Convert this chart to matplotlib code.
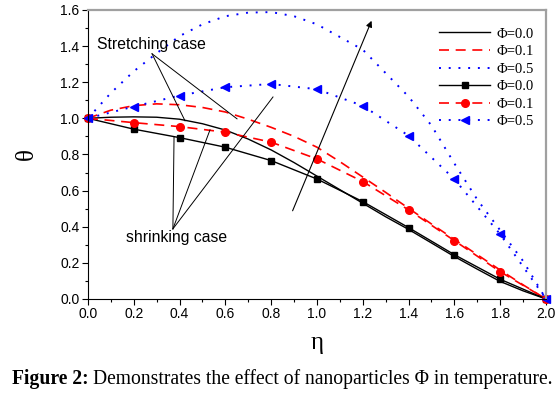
import matplotlib
matplotlib.use("Agg")
from matplotlib import pyplot as plt
from matplotlib.ticker import MultipleLocator

# eta grid for the plain curves (stretching case) and marker curves (shrinking case)
eta_fine = [0.0, 0.1, 0.2, 0.3, 0.4, 0.5, 0.6, 0.7, 0.8, 0.9, 1.0,
            1.1, 1.2, 1.3, 1.4, 1.5, 1.6, 1.7, 1.8, 1.9, 2.0]
theta_s_00 = [1.0, 1.006, 1.008, 1.006, 0.995, 0.97, 0.935, 0.885, 0.825, 0.755, 0.68,
              0.605, 0.53, 0.455, 0.385, 0.31, 0.235, 0.165, 0.097, 0.045, 0.0]
theta_s_01 = [1.0, 1.045, 1.07, 1.08, 1.075, 1.06, 1.035, 0.995, 0.95, 0.9, 0.84,
              0.76, 0.675, 0.59, 0.502, 0.415, 0.33, 0.245, 0.16, 0.078, 0.0]
theta_s_05 = [1.0, 1.14, 1.26, 1.36, 1.455, 1.52, 1.565, 1.585, 1.588, 1.565, 1.52,
              1.45, 1.38, 1.25, 1.12, 0.96, 0.75, 0.55, 0.38, 0.21, 0.0]

eta_mark = [0.0, 0.2, 0.4, 0.6, 0.8, 1.0, 1.2, 1.4, 1.6, 1.8, 2.0]
theta_m_00 = [1.0, 0.94, 0.893, 0.84, 0.766, 0.664, 0.539, 0.395, 0.245, 0.109, 0.0]
theta_m_01 = [1.0, 0.976, 0.954, 0.923, 0.868, 0.775, 0.65, 0.493, 0.323, 0.151, 0.0]
theta_m_05 = [1.0, 1.065, 1.126, 1.172, 1.19, 1.161, 1.069, 0.904, 0.663, 0.358, 0.0]

fig = plt.figure(figsize=(5.6, 3.96), dpi=100)
ax = fig.add_axes([0.157, 0.245, 0.818, 0.730])

ax.plot(eta_fine, theta_s_00, color="black", lw=1.0, label="Φ=0.0")
ax.plot(eta_fine, theta_s_01, color="red", lw=1.2, ls=(0, (6, 4)), label="Φ=0.1")
ax.plot(eta_fine, theta_s_05, color="blue", lw=1.4, ls=(0, (1, 4)), label="Φ=0.5")
ax.plot(eta_mark, theta_m_00, color="black", lw=1.0, marker="s", ms=5,
        label="Φ=0.0", clip_on=False)
ax.plot(eta_mark, theta_m_01, color="red", lw=1.2, ls=(0, (6, 4)), marker="o", ms=5.5,
        label="Φ=0.1", clip_on=False)
ax.plot(eta_mark, theta_m_05, color="blue", lw=1.4, ls=(0, (1, 4)), marker="<", ms=6,
        label="Φ=0.5", clip_on=False)

# annotations
ax.text(0.04, 1.41, "Stretching case", fontsize=11.3, family="Liberation Sans", va="center")
for x2, y2 in [(0.651, 0.997), (0.424, 0.986)]:
    ax.plot([0.28, x2], [1.357, y2], color="black", lw=0.7)
ax.text(0.166, 0.338, "shrinking case", fontsize=11.3, family="Liberation Sans", va="center")
for x2, y2 in [(0.376, 0.897), (0.533, 0.936), (0.808, 1.118)]:
    ax.plot([0.371, x2], [0.388, y2], color="black", lw=0.7)
ax.annotate("", xy=(1.243, 1.554), xytext=(0.889, 0.474),
            arrowprops=dict(arrowstyle="-|>", color="black", lw=0.8, mutation_scale=9))

ax.set_xlim(0, 2.0)
ax.set_ylim(0, 1.6)
ax.xaxis.set_major_locator(MultipleLocator(0.2))
ax.xaxis.set_minor_locator(MultipleLocator(0.1))
ax.yaxis.set_major_locator(MultipleLocator(0.2))
ax.yaxis.set_minor_locator(MultipleLocator(0.1))
ax.set_xticklabels([f"{v:.1f}" for v in ax.get_xticks()])
ax.set_yticklabels([f"{v:.1f}" for v in ax.get_yticks()])
for lab in ax.get_xticklabels() + ax.get_yticklabels():
    lab.set_family("Liberation Sans")
    lab.set_fontsize(10)
ax.tick_params(which="major", length=4, width=0.8, pad=2)
ax.tick_params(which="minor", length=2.5, width=0.8)
for side in ["top", "right"]:
    ax.spines[side].set_color("#a0a0a0")
    ax.spines[side].set_linewidth(1.6)

ax.set_xlabel("η", fontsize=18, family="Liberation Serif", labelpad=8)
ax.set_ylabel("θ", fontsize=18, family="Liberation Serif", labelpad=16)

ax.legend(loc="upper left", bbox_to_anchor=(0.754, 0.96), frameon=False,
          prop={"family": "Liberation Serif", "size": 10.5}, handlelength=3.5,
          handletextpad=0.45, labelspacing=0.3, borderaxespad=0)

# caption: bold lead-in followed by regular text
cap_size = 14.1
t1 = fig.text(0.022, 0.03, "Figure 2:", fontsize=cap_size, family="Liberation Serif",
              weight="bold")
fig.canvas.draw()
bb = t1.get_window_extent()
x_next = (bb.x1 + 4) / fig.bbox.width
fig.text(x_next, 0.03, "Demonstrates the effect of nanoparticles Φ in temperature.",
         fontsize=cap_size, family="Liberation Serif")

fig.savefig("out.png", dpi=100)
